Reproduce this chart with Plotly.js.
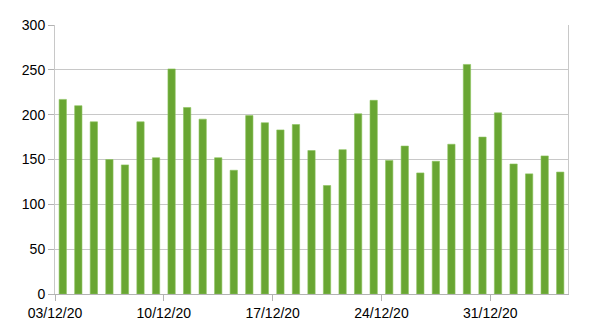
<!DOCTYPE html>
<html>
<head>
<meta charset="utf-8">
<script src="https://cdn.plot.ly/plotly-3.0.1.min.js"></script>
<style>html,body{margin:0;padding:0;background:#fff}#chart{width:595px;height:335px}</style>
</head>
<body>
<div id="chart"></div>
<script>
const dates = ["2020-12-03","2020-12-04","2020-12-05","2020-12-06","2020-12-07","2020-12-08","2020-12-09","2020-12-10","2020-12-11","2020-12-12","2020-12-13","2020-12-14","2020-12-15","2020-12-16","2020-12-17","2020-12-18","2020-12-19","2020-12-20","2020-12-21","2020-12-22","2020-12-23","2020-12-24","2020-12-25","2020-12-26","2020-12-27","2020-12-28","2020-12-29","2020-12-30","2020-12-31","2021-01-01","2021-01-02","2021-01-03","2021-01-04"];
const values = [217,210,192,150,144,192,152,251,208,195,152,138,199,191,183,189,160,121,161,201,216,149,165,135,148,167,256,175,202,145,134,154,136];
const tickDates = ["2020-12-03","2020-12-10","2020-12-17","2020-12-24","2020-12-31"];
const tickLabels = ["03/12/20","10/12/20","17/12/20","24/12/20","31/12/20"];
const yTicks = [0,50,100,150,200,250,300];

const trace = {
  type: "bar",
  x: dates,
  y: values,
  xperiod: 86400000,
  xperiodalignment: "middle",
  marker: {color: "#69a633", line: {color: "#8cc35c", width: 0.6}},
  hoverinfo: "skip"
};

const layout = {
  width: 595, height: 335,
  margin: {l: 54.5, r: 27, t: 25, b: 40.7},
  paper_bgcolor: "#ffffff", plot_bgcolor: "#ffffff",
  bargap: 0.53,
  showlegend: false,
  font: {family: "Liberation Sans, Arial, sans-serif", size: 14, color: "#000"},
  xaxis: {
    type: "date",
    range: ["2020-12-03", "2021-01-05"],
    tickmode: "array", tickvals: tickDates, ticktext: tickLabels,
    ticks: "outside", ticklen: 6, tickcolor: "#b3b3b3",
    showgrid: false, showline: true, linecolor: "#b3b3b3", linewidth: 1,
    zeroline: false, tickfont: {size: 14}
  },
  yaxis: {
    range: [0, 300],
    tickmode: "array", tickvals: yTicks,
    ticks: "outside", ticklen: 6, tickcolor: "#b3b3b3",
    showgrid: true, gridcolor: "#c8c8c8", gridwidth: 1,
    showline: true, mirror: true, linecolor: "#c8c8c8", linewidth: 1,
    zeroline: false, tickfont: {size: 14}
  }
};

Plotly.newPlot("chart", [trace], layout, {staticPlot: true, displayModeBar: false});
</script>
</body>
</html>
